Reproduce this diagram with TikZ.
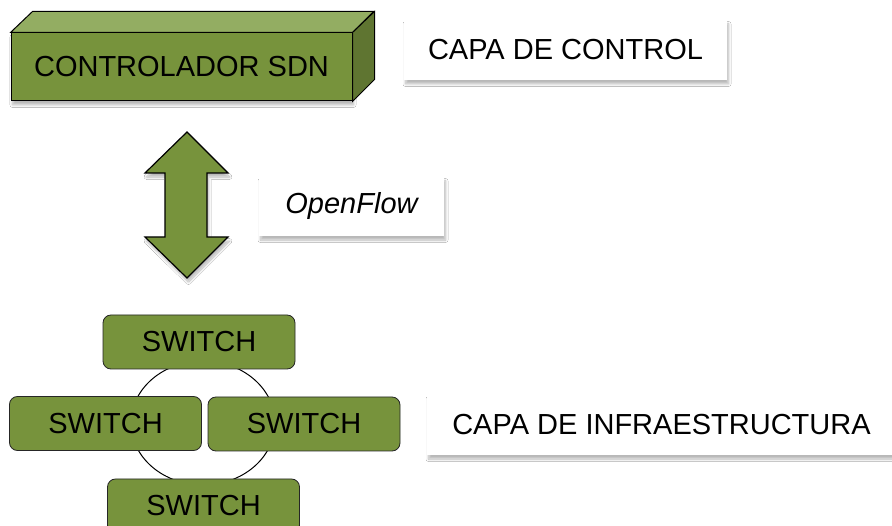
\documentclass[tikz,border=0pt]{standalone}
\usepackage{fontspec}
\setmainfont{Liberation Sans}
\usetikzlibrary{shadows.blur}
\definecolor{sdngreen}{HTML}{77933C}
\definecolor{sdntop}{HTML}{93AD62}
\definecolor{sdnside}{HTML}{5F7531}
\tikzset{
  bigtext/.style = {font = \fontsize{29}{34}\selectfont, inner sep = 0pt},
  softshadow/.style = {blur shadow = {shadow xshift = 1.5pt, shadow yshift = -4pt, shadow blur steps = 8, shadow blur radius = 2.5pt, shadow opacity = 28}},
  layerbox/.style = {bigtext, fill = white, softshadow, minimum height = 60pt},
  switchbox/.style = {bigtext, fill = sdngreen, draw = black!85, line width = 0.8pt, rounded corners = 8pt, minimum width = 192pt, minimum height = 54pt}
}
\begin{document}
\begin{tikzpicture}[x = 1pt, y = -1pt]
\useasboundingbox (0,0) rectangle (892,526);
\fill[white] (0,0) rectangle (892,526);
\node[bigtext, draw = black, line width = 1pt, fill = sdngreen, softshadow, minimum width = 341pt, minimum height = 68pt] (ctrl) at (181.5,67) {CONTROLADOR SDN};
\filldraw[fill = sdntop, draw = black, line width = 1pt] (ctrl.north west) -- ++(22,-21) -- ++(341,0) -- (ctrl.north east) -- cycle;
\filldraw[fill = sdnside, draw = black, line width = 1pt] (ctrl.north east) -- ++(22,-21) -- ++(0,68) -- (ctrl.south east) -- cycle;
\node[layerbox, minimum width = 323pt] (control) at (565.5,50) {CAPA DE CONTROL};
\filldraw[fill = sdngreen, draw = black, line width = 1.2pt, softshadow] (187,132) -- (228,173) -- (207,173) -- (207,237) -- (228,237) -- (187,278) -- (145,237) -- (165,237) -- (165,173) -- (145,173) -- cycle;
\node[layerbox, minimum width = 185pt, minimum height = 59pt] (flow) at (351.5,206.5) {\itshape OpenFlow};
\coordinate (ring) at (203,423);
\draw[line width = 1pt] (ring) ellipse (72 and 62);
\node[switchbox] (sw1) at (199,342) {SWITCH};
\node[switchbox] (sw2) at (105.5,423.5) {SWITCH};
\node[switchbox] (sw3) at (304,424) {SWITCH};
\node[switchbox] (sw4) at (203.5,506) {SWITCH};
\node[layerbox, minimum width = 469pt] (infra) at (661.5,425) {CAPA DE INFRAESTRUCTURA};
\end{tikzpicture}
\end{document}
